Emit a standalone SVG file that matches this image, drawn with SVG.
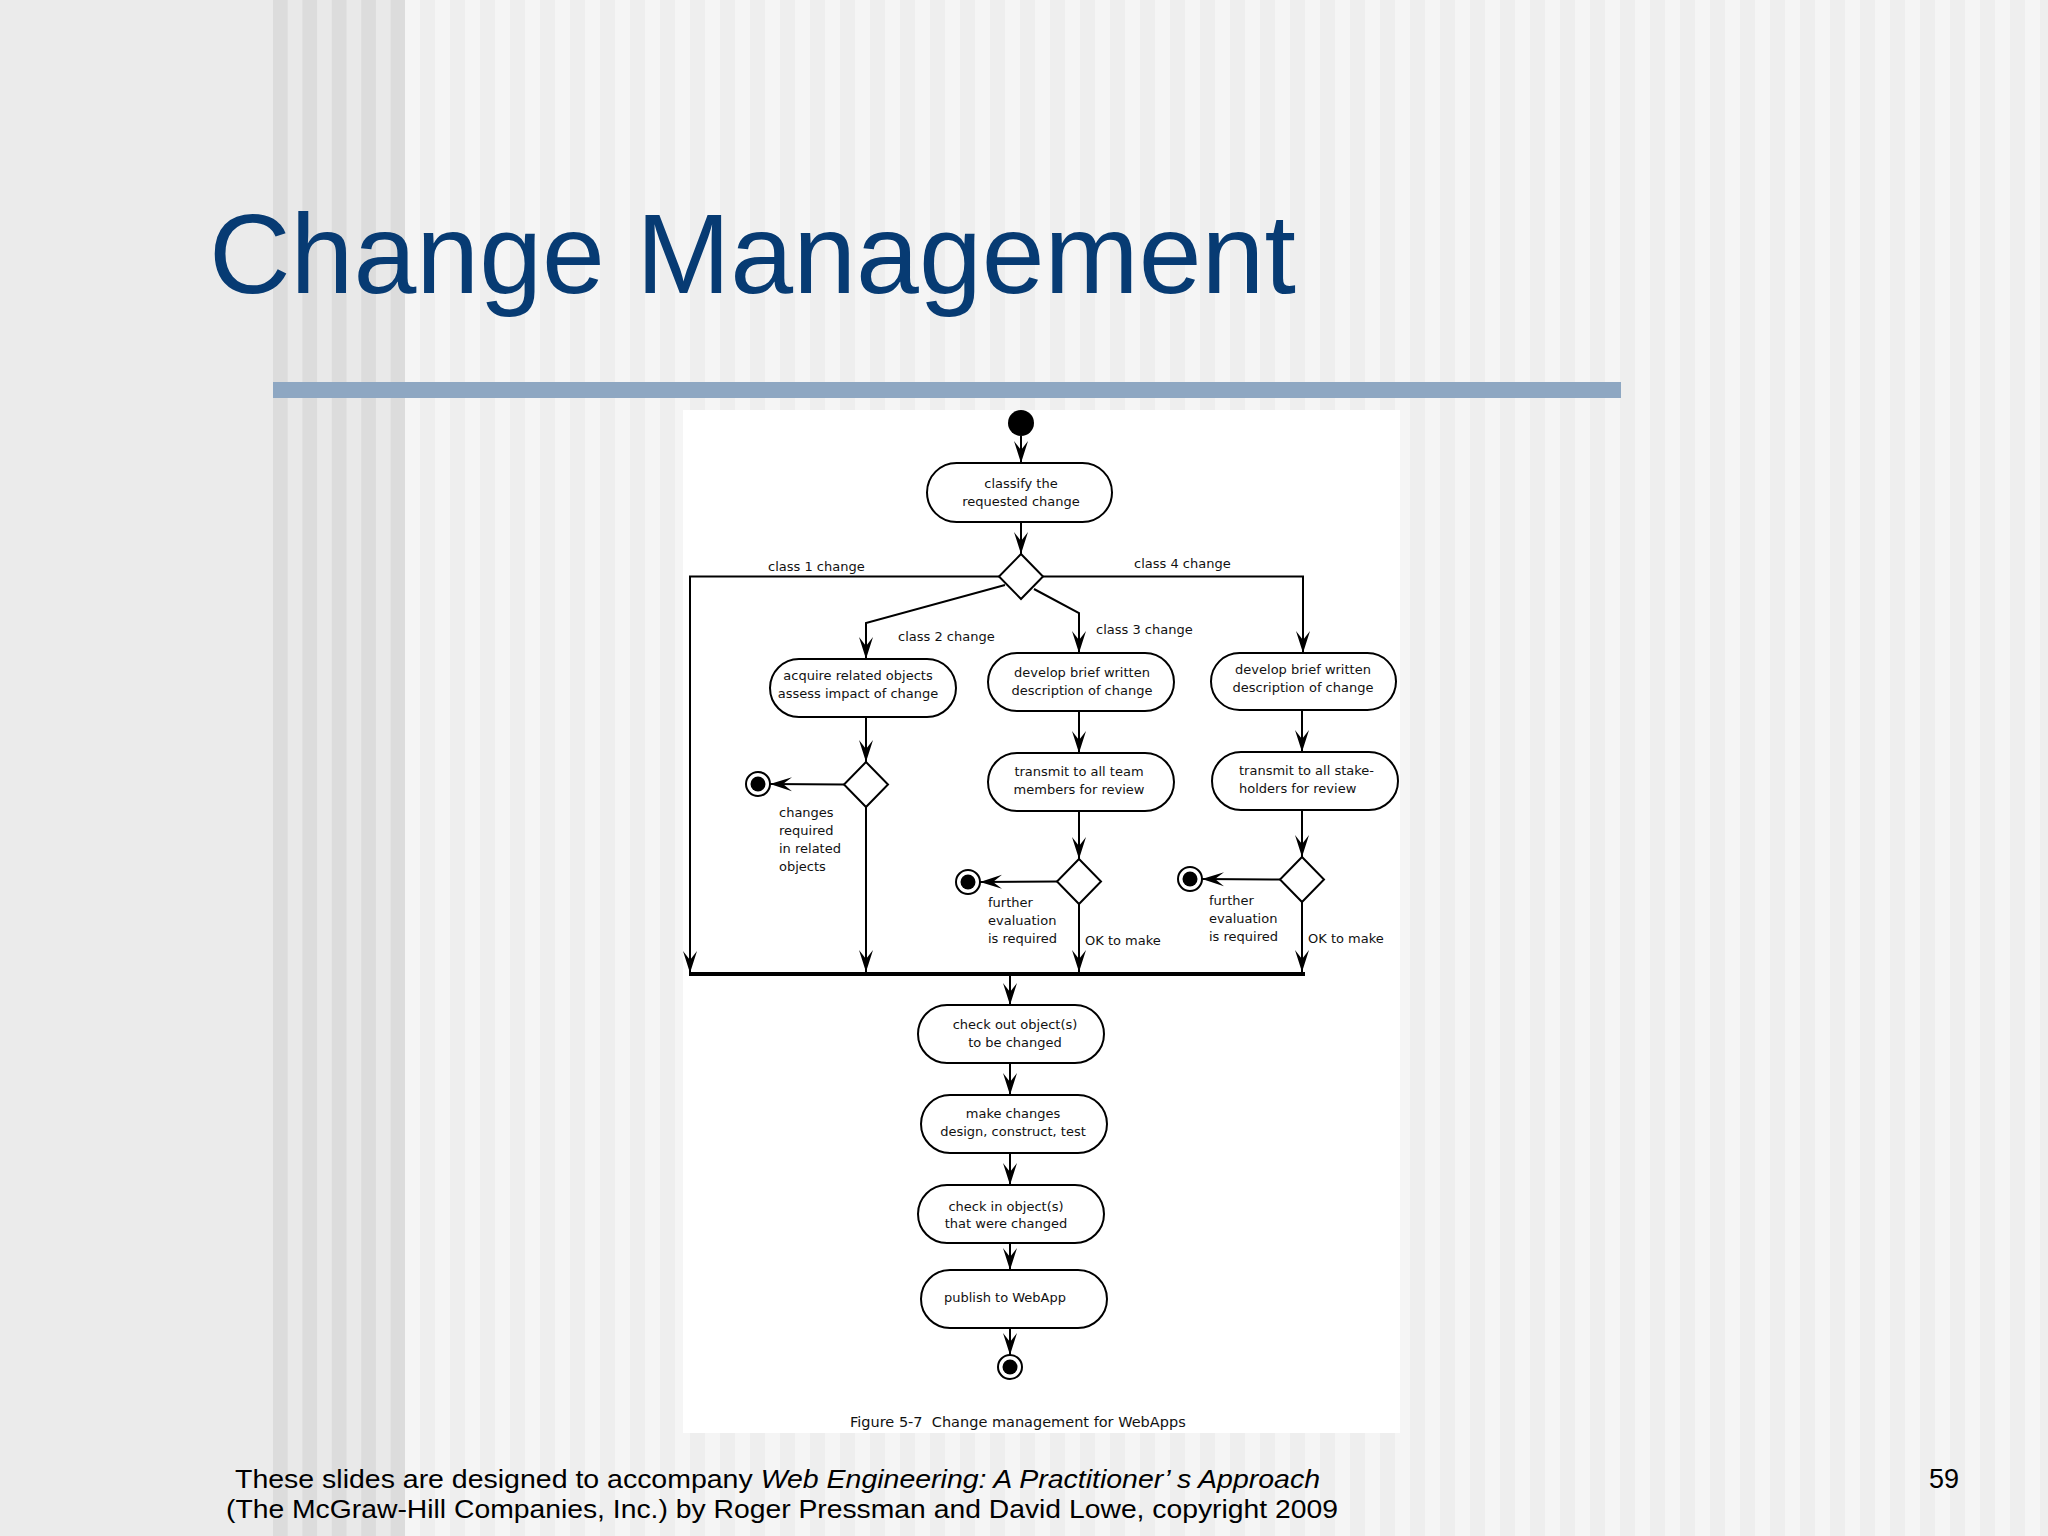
<svg xmlns="http://www.w3.org/2000/svg" width="2048" height="1536" viewBox="0 0 2048 1536">
<defs>
<pattern id="s1" x="273" y="0" width="29.4" height="10" patternUnits="userSpaceOnUse"><rect width="15" height="10" fill="#dcdcdc"/><rect x="15" width="14.4" height="10" fill="#e9e9e9"/></pattern>
<pattern id="s2" x="405" y="0" width="30" height="10" patternUnits="userSpaceOnUse"><rect width="15" height="10" fill="#f5f5f5"/><rect x="15" width="15" height="10" fill="#eeeeee"/></pattern>
<marker id="ah" markerUnits="userSpaceOnUse" markerWidth="24" markerHeight="16" refX="22" refY="8" orient="auto"><path d="M0,1 L22,8 L0,15 L9,8 Z" fill="#000"/></marker>
<style>
.n{fill:#fff;stroke:#000;stroke-width:2}
.t{font-family:"DejaVu Sans",Verdana,sans-serif;font-size:13px;fill:#111}
.c{text-anchor:middle}
.e{fill:none;stroke:#000;stroke-width:2;marker-end:url(#ah)}
.fin{fill:#fff;stroke:#000;stroke-width:2}
.foot{font-family:"Liberation Sans",Arial,sans-serif;font-size:25px;fill:#000}
</style>
</defs>
<rect width="2048" height="1536" fill="#ebebeb"/>
<rect x="273" y="0" width="132" height="1536" fill="url(#s1)"/>
<rect x="405" y="0" width="1643" height="1536" fill="url(#s2)"/>
<text x="209" y="293" font-family="'Liberation Sans',Arial,sans-serif" font-size="113" fill="#073b73">Change Management</text>
<rect x="273" y="382" width="1348" height="16" fill="#8ea7c2"/>
<rect x="683" y="410" width="717" height="1023" fill="#fff"/>

<g id="connectors">
<line class="e" x1="1021" y1="436" x2="1021" y2="463"/>
<line class="e" x1="1021" y1="522" x2="1021" y2="554"/>
<path class="e" d="M999,576.5 H690 V973"/>
<path class="e" d="M1043,576.5 H1303 V653"/>
<path class="e" d="M1005,585 L866,623 V659"/>
<path class="e" d="M1034,589 L1079,613 V653"/>
<line class="e" x1="866" y1="717" x2="866" y2="762"/>
<line class="e" x1="844" y1="784.5" x2="770" y2="784"/>
<line class="e" x1="866" y1="807" x2="866" y2="972"/>
<line class="e" x1="1079" y1="711" x2="1079" y2="753"/>
<line class="e" x1="1079" y1="811" x2="1079" y2="859"/>
<line class="e" x1="1057" y1="881.5" x2="980" y2="882"/>
<line class="e" x1="1079" y1="904" x2="1079" y2="972"/>
<line class="e" x1="1302" y1="710" x2="1302" y2="752"/>
<line class="e" x1="1302" y1="810" x2="1302" y2="857"/>
<line class="e" x1="1280" y1="879.5" x2="1202" y2="879"/>
<line class="e" x1="1302" y1="902" x2="1302" y2="972"/>
<line x1="689" y1="974" x2="1305" y2="974" stroke="#000" stroke-width="4"/>
<line class="e" x1="1010" y1="976" x2="1010" y2="1005"/>
<line class="e" x1="1010" y1="1063" x2="1010" y2="1095"/>
<line class="e" x1="1010" y1="1153" x2="1010" y2="1185"/>
<line class="e" x1="1010" y1="1243" x2="1010" y2="1270"/>
<line class="e" x1="1010" y1="1328" x2="1010" y2="1355"/>
</g>

<g id="start"><circle cx="1021" cy="423" r="13" fill="#000"/></g>
<g id="classify"><rect class="n" x="927" y="463" width="185" height="59" rx="29.5"/><text class="t c" x="1021" y="488">classify the</text><text class="t c" x="1021" y="506">requested change</text></g>
<g id="decision1"><polygon class="n" points="1021,554 1043,576.5 1021,599 999,576.5"/></g>
<g id="acquire"><rect class="n" x="770" y="659" width="186" height="58" rx="29"/><text class="t c" x="858" y="680">acquire related objects</text><text class="t c" x="858" y="698">assess impact of change</text></g>
<g id="develop3"><rect class="n" x="988" y="653" width="186" height="58" rx="29"/><text class="t c" x="1082" y="677">develop brief written</text><text class="t c" x="1082" y="695">description of change</text></g>
<g id="develop4"><rect class="n" x="1211" y="653" width="185" height="57" rx="28.5"/><text class="t c" x="1303" y="674">develop brief written</text><text class="t c" x="1303" y="692">description of change</text></g>
<g id="transmit3"><rect class="n" x="988" y="753" width="186" height="58" rx="29"/><text class="t c" x="1079" y="776">transmit to all team</text><text class="t c" x="1079" y="794">members for review</text></g>
<g id="transmit4"><rect class="n" x="1212" y="752" width="186" height="58" rx="29"/><text class="t" x="1239" y="775">transmit to all stake-</text><text class="t" x="1239" y="793">holders for review</text></g>
<g id="decision2"><polygon class="n" points="866,762 888,784.5 866,807 844,784.5"/></g>
<g id="decision3"><polygon class="n" points="1079,859 1101,881.5 1079,904 1057,881.5"/></g>
<g id="decision4"><polygon class="n" points="1302,857 1324,879.5 1302,902 1280,879.5"/></g>
<g id="end2"><circle class="fin" cx="758" cy="784" r="12"/><circle cx="758" cy="784" r="7.5" fill="#000"/></g>
<g id="end3"><circle class="fin" cx="968" cy="882" r="12"/><circle cx="968" cy="882" r="7.5" fill="#000"/></g>
<g id="end4"><circle class="fin" cx="1190" cy="879" r="12"/><circle cx="1190" cy="879" r="7.5" fill="#000"/></g>
<g id="labels">
<text class="t" x="768" y="571">class 1 change</text>
<text class="t" x="1134" y="568">class 4 change</text>
<text class="t" x="898" y="641">class 2 change</text>
<text class="t" x="1096" y="634">class 3 change</text>
<text class="t" x="779" y="817">changes</text><text class="t" x="779" y="835">required</text><text class="t" x="779" y="853">in related</text><text class="t" x="779" y="871">objects</text>
<text class="t" x="988" y="907">further</text><text class="t" x="988" y="925">evaluation</text><text class="t" x="988" y="943">is required</text>
<text class="t" x="1085" y="945">OK to make</text>
<text class="t" x="1209" y="905">further</text><text class="t" x="1209" y="923">evaluation</text><text class="t" x="1209" y="941">is required</text>
<text class="t" x="1308" y="943">OK to make</text>
</g>
<g id="checkout"><rect class="n" x="918" y="1005" width="186" height="58" rx="29"/><text class="t c" x="1015" y="1029">check out object(s)</text><text class="t c" x="1015" y="1047">to be changed</text></g>
<g id="makechanges"><rect class="n" x="921" y="1095" width="186" height="58" rx="29"/><text class="t c" x="1013" y="1118">make changes</text><text class="t c" x="1013" y="1136">design, construct, test</text></g>
<g id="checkin"><rect class="n" x="918" y="1185" width="186" height="58" rx="29"/><text class="t c" x="1006" y="1211">check in object(s)</text><text class="t c" x="1006" y="1228">that were changed</text></g>
<g id="publish"><rect class="n" x="921" y="1270" width="186" height="58" rx="29"/><text class="t c" x="1005" y="1302">publish to WebApp</text></g>
<g id="end"><circle class="fin" cx="1010" cy="1367" r="12"/><circle cx="1010" cy="1367" r="7.5" fill="#000"/></g>
<text class="t" x="850" y="1427" style="font-size:14.5px" xml:space="preserve">Figure 5-7  Change management for WebApps</text>

<text class="foot" x="235" y="1488" textLength="1085" lengthAdjust="spacingAndGlyphs">These slides are designed to accompany <tspan font-style="italic">Web Engineering: A Practitioner’ s Approach</tspan></text>
<text class="foot" x="226" y="1518" textLength="1112" lengthAdjust="spacingAndGlyphs">(The McGraw-Hill Companies, Inc.) by Roger Pressman and David Lowe, copyright 2009</text>
<text class="foot" x="1929" y="1488" style="font-size:27px">59</text>
</svg>
